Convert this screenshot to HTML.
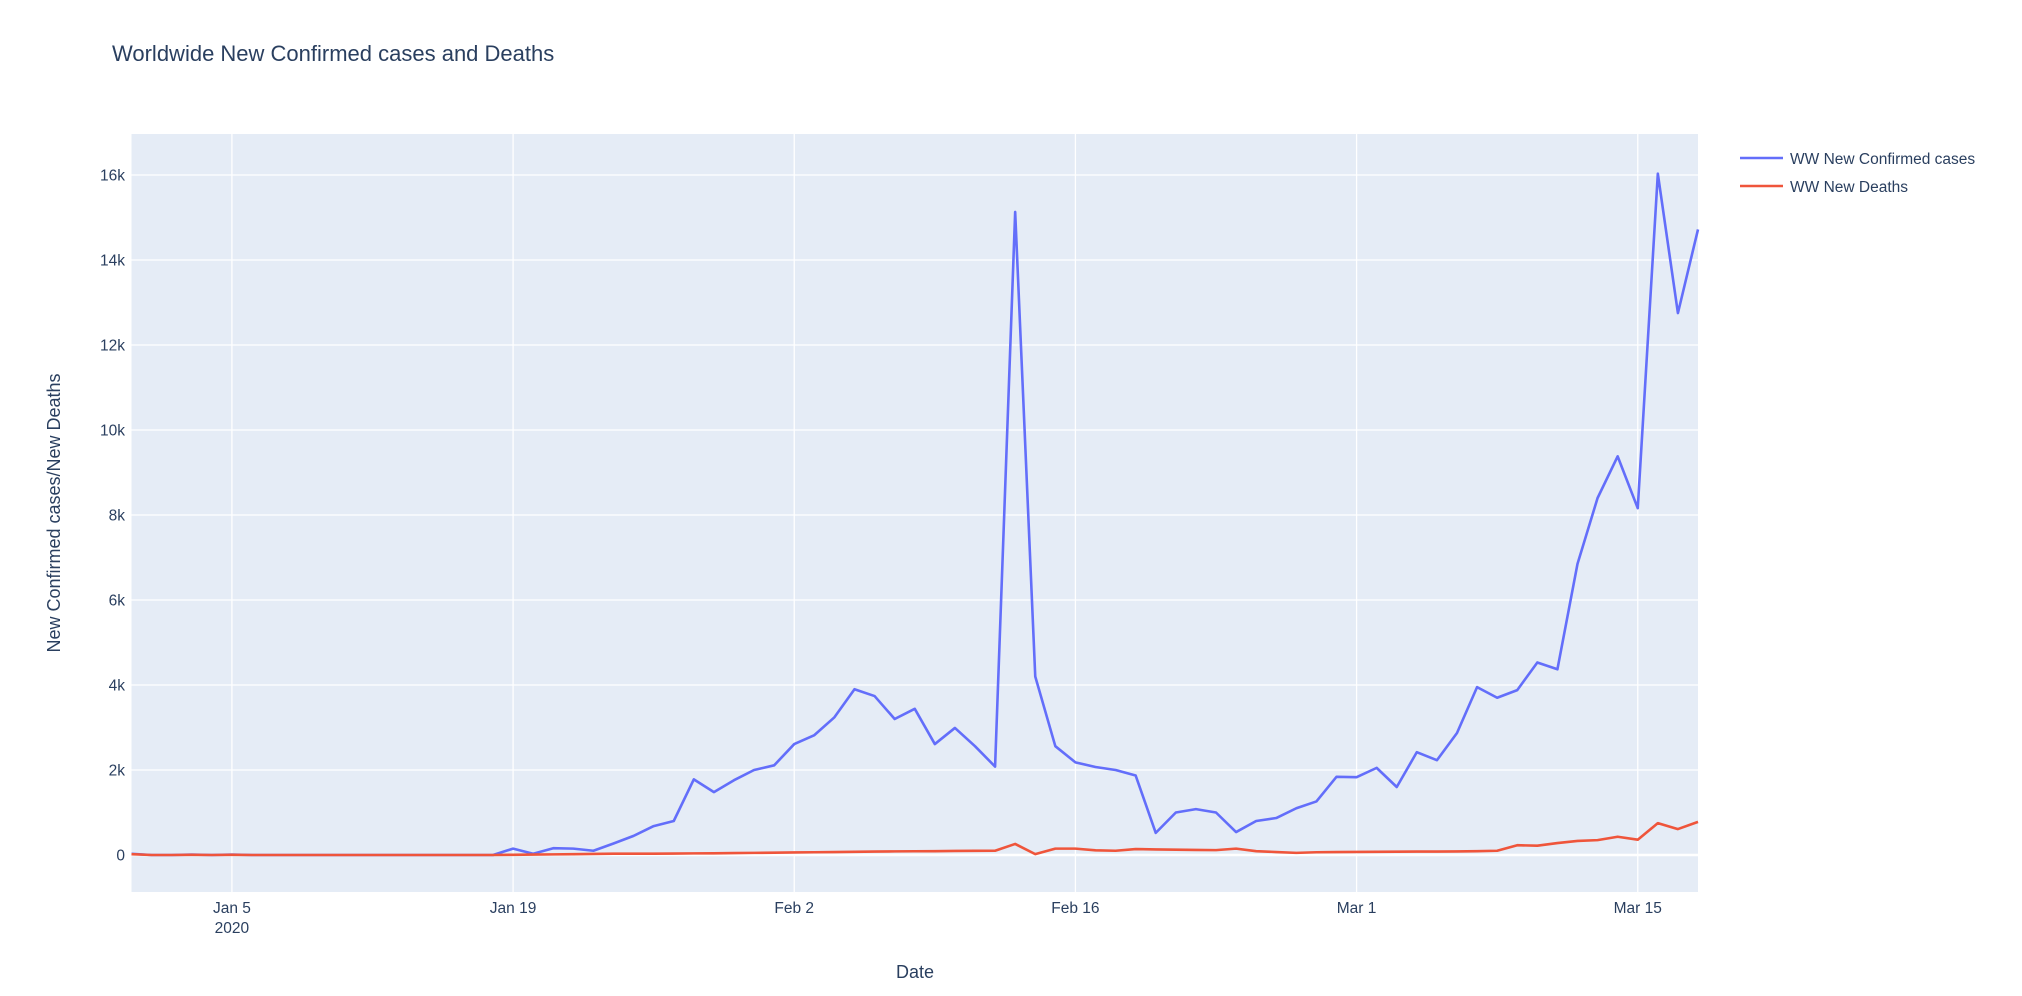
<!DOCTYPE html>
<html><head><meta charset="utf-8"><style>
html,body{margin:0;padding:0;background:#fff;}
svg{display:block;font-family:"Liberation Sans","DejaVu Sans",sans-serif;}
</style></head><body>
<svg id="chart" width="2022" height="996" xmlns="http://www.w3.org/2000/svg">
<text x="112" y="61" font-size="22" fill="#2a3f5f">Worldwide New Confirmed cases and Deaths</text>
<rect x="131.5" y="134" width="1566.5" height="758" fill="#e5ecf6"/>
<g id="grid"></g>
<g id="series"></g>
<g id="ticks"></g>
<text transform="translate(60,513) rotate(-90)" text-anchor="middle" font-size="18" fill="#2a3f5f">New Confirmed cases/New Deaths</text>
<text x="915" y="978" text-anchor="middle" font-size="18" fill="#2a3f5f">Date</text>
<g>
<g>
<line x1="1740" y1="158" x2="1783" y2="158" stroke="#636efa" stroke-width="2.6"/>
<text x="1790" y="164" font-size="15.5" fill="#2a3f5f">WW New Confirmed cases</text></g>
<g>
<line x1="1740" y1="186" x2="1783" y2="186" stroke="#ef553b" stroke-width="2.6"/>
<text x="1790" y="192" font-size="15.5" fill="#2a3f5f">WW New Deaths</text></g>
</g>
</svg>
<script>
// days since 2019-12-31
const confirmed = [27,0,0,10,0,10,0,0,0,0,0,0,0,0,0,0,0,0,0,150,30,160,150,100,270,450,680,800,1780,1480,1760,2000,2110,2610,2820,3240,3900,3740,3200,3440,2610,2990,2560,2080,15130,4200,2560,2180,2070,2000,1870,520,1000,1080,1000,540,800,870,1100,1260,1840,1830,2050,1600,2420,2230,2870,3950,3700,3880,4530,4370,6850,8400,9380,8160,16030,12750,14720];
const deaths = [20,0,0,5,0,5,0,0,0,0,0,0,0,0,0,0,0,0,0,5,10,15,20,25,30,30,32,35,38,40,45,50,55,60,65,70,75,80,85,88,90,95,98,100,260,20,150,150,110,100,140,130,125,120,115,150,90,70,50,65,70,72,75,78,80,82,85,90,100,230,220,280,330,350,430,360,750,610,780];
const yTicks = [0,2000,4000,6000,8000,10000,12000,14000,16000];
const yTickLabels = ["0","2k","4k","6k","8k","10k","12k","14k","16k"];
const xTickDays = [5,19,33,47,61,75];
const xTickLabels = ["Jan 5","Jan 19","Feb 2","Feb 16","Mar 1","Mar 15"];

const NS="http://www.w3.org/2000/svg";
const X0=131.5, X1=1698, Y0=892, Y1=134;
const xs = d => X0 + d*(X1-X0)/78;
const ys = v => 855 - v*(680/16000);
function mk(tag, attrs, parent){const e=document.createElementNS(NS,tag);for(const k in attrs)e.setAttribute(k,attrs[k]);parent.appendChild(e);return e;}
const grid=document.getElementById('grid'), ticks=document.getElementById('ticks'), series=document.getElementById('series');
yTicks.forEach((v,i)=>{
  const l=mk('line',{x1:X0,x2:X1,y1:ys(v),y2:ys(v),stroke:'#fff','stroke-width':v===0?2.6:1.3},grid);
  
  
  const t=mk('text',{x:125,y:ys(v)+5.5,'text-anchor':'end','font-size':15.5,fill:'#2a3f5f'},ticks);
  t.textContent=yTickLabels[i];
  
  
});
xTickDays.forEach((d,i)=>{
  const l=mk('line',{x1:xs(d),x2:xs(d),y1:Y1,y2:Y0,stroke:'#fff','stroke-width':1.3},grid);
  
  
  const t=mk('text',{x:xs(d),y:913,'text-anchor':'middle','font-size':15.5,fill:'#2a3f5f'},ticks);
  t.textContent=xTickLabels[i];
  
  
});
const yr=mk('text',{x:xs(5),y:933,'text-anchor':'middle','font-size':15.5,fill:'#2a3f5f'},ticks);
yr.textContent='2020';


function line(arr,color,name){
  const p=mk('polyline',{points:arr.map((v,i)=>xs(i)+','+ys(v)).join(' '),fill:'none',stroke:color,'stroke-width':2.6,'stroke-linejoin':'round'},series);
  
  
}
line(confirmed,'#636efa','confirmed-cases-line');
line(deaths,'#ef553b','deaths-line');
</script>
</body></html>
